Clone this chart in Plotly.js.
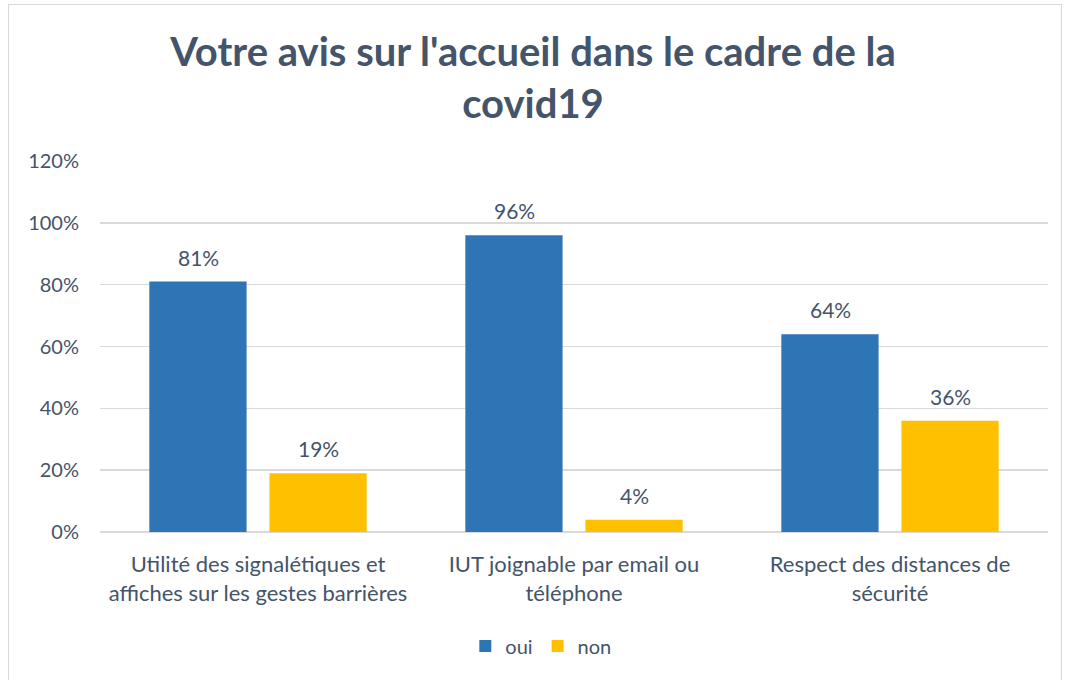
<!DOCTYPE html>
<html><head><meta charset="utf-8">
<script src="https://cdn.plot.ly/plotly-3.0.1.min.js"></script>
<style>
html,body{margin:0;padding:0;background:#fff;overflow:hidden}
#chart{width:1066px;height:680px}
#frame{position:absolute;left:8px;top:4px;width:1052px;height:690px;border:1.5px solid #D9D9D9;pointer-events:none}
</style></head>
<body>
<div id="chart"></div>
<div id="frame"></div>
<script>
const categories = [
  "Utilité des signalétiques et<br>affiches sur les gestes barrières",
  "IUT joignable par email ou<br>téléphone",
  "Respect des distances de<br>sécurité"
];
const oui = [0.81, 0.96, 0.64];
const non = [0.19, 0.04, 0.36];
const seriesNames = ["oui", "non"];
const tickVals = [0, 0.2, 0.4, 0.6, 0.8, 1.0, 1.2];
const tickText = ["0%", "20%", "40%", "60%", "80%", "100%", "120%"];

const FONT = "Lato, 'Open Sans', sans-serif";
const TXT = "#44546A";

const mk = (y, name, color) => ({
  type: "bar", x: categories, y: y, name: name,
  marker: {color: color},
  hoverinfo: "skip"
});

const data = [mk(oui, seriesNames[0], "#2E75B6"), mk(non, seriesNames[1], "#FFC000")];

// value labels above each bar, positioned from the data
const annotations = [];
[[oui, -60], [non, 60]].forEach(([arr, dx]) => {
  arr.forEach((v, i) => annotations.push({
    x: categories[i], y: v, xref: "x", yref: "y",
    text: Math.round(v * 100) + "%", showarrow: false,
    xshift: dx, yshift: 10, yanchor: "bottom",
    font: {family: FONT, size: 21, color: TXT}
  }));
});

const layout = {
  width: 1066, height: 680,
  margin: {l: 100, r: 18, t: 161, b: 148},
  paper_bgcolor: "#fff", plot_bgcolor: "#fff",
  font: {family: FONT, color: TXT, size: 20},
  title: {text: "<b>Votre avis sur l'accueil dans le cadre de la<br>covid19</b>",
          font: {family: FONT, size: 40, color: TXT}, x: 0.5, xanchor: "center",
          yref: "container", y: 1 - 66/680, yanchor: "middle"},
  barmode: "group", bargap: 0.24, bargroupgap: 0.19,
  annotations: annotations,
  xaxis: {tickfont: {family: FONT, size: 22, color: TXT}, showline: false, ticks: "",
          ticklabelstandoff: 17, fixedrange: true},
  yaxis: {range: [0, 1.2], tickvals: tickVals, ticktext: tickText,
          gridcolor: "#D9D9D9", gridwidth: 1.5, zeroline: true, zerolinecolor: "#D9D9D9", zerolinewidth: 1.5,
          tickfont: {family: FONT, size: 20, color: TXT}, ticklabelstandoff: 20, fixedrange: true},
  legend: {orientation: "h", x: 0.465, xanchor: "center", y: -0.307, yanchor: "middle",
           font: {family: FONT, size: 20, color: TXT}, itemwidth: 30, traceorder: "normal"},
  showlegend: true
};

Plotly.newPlot("chart", data, layout, {displayModeBar: false, staticPlot: true});
</script>
</body></html>
